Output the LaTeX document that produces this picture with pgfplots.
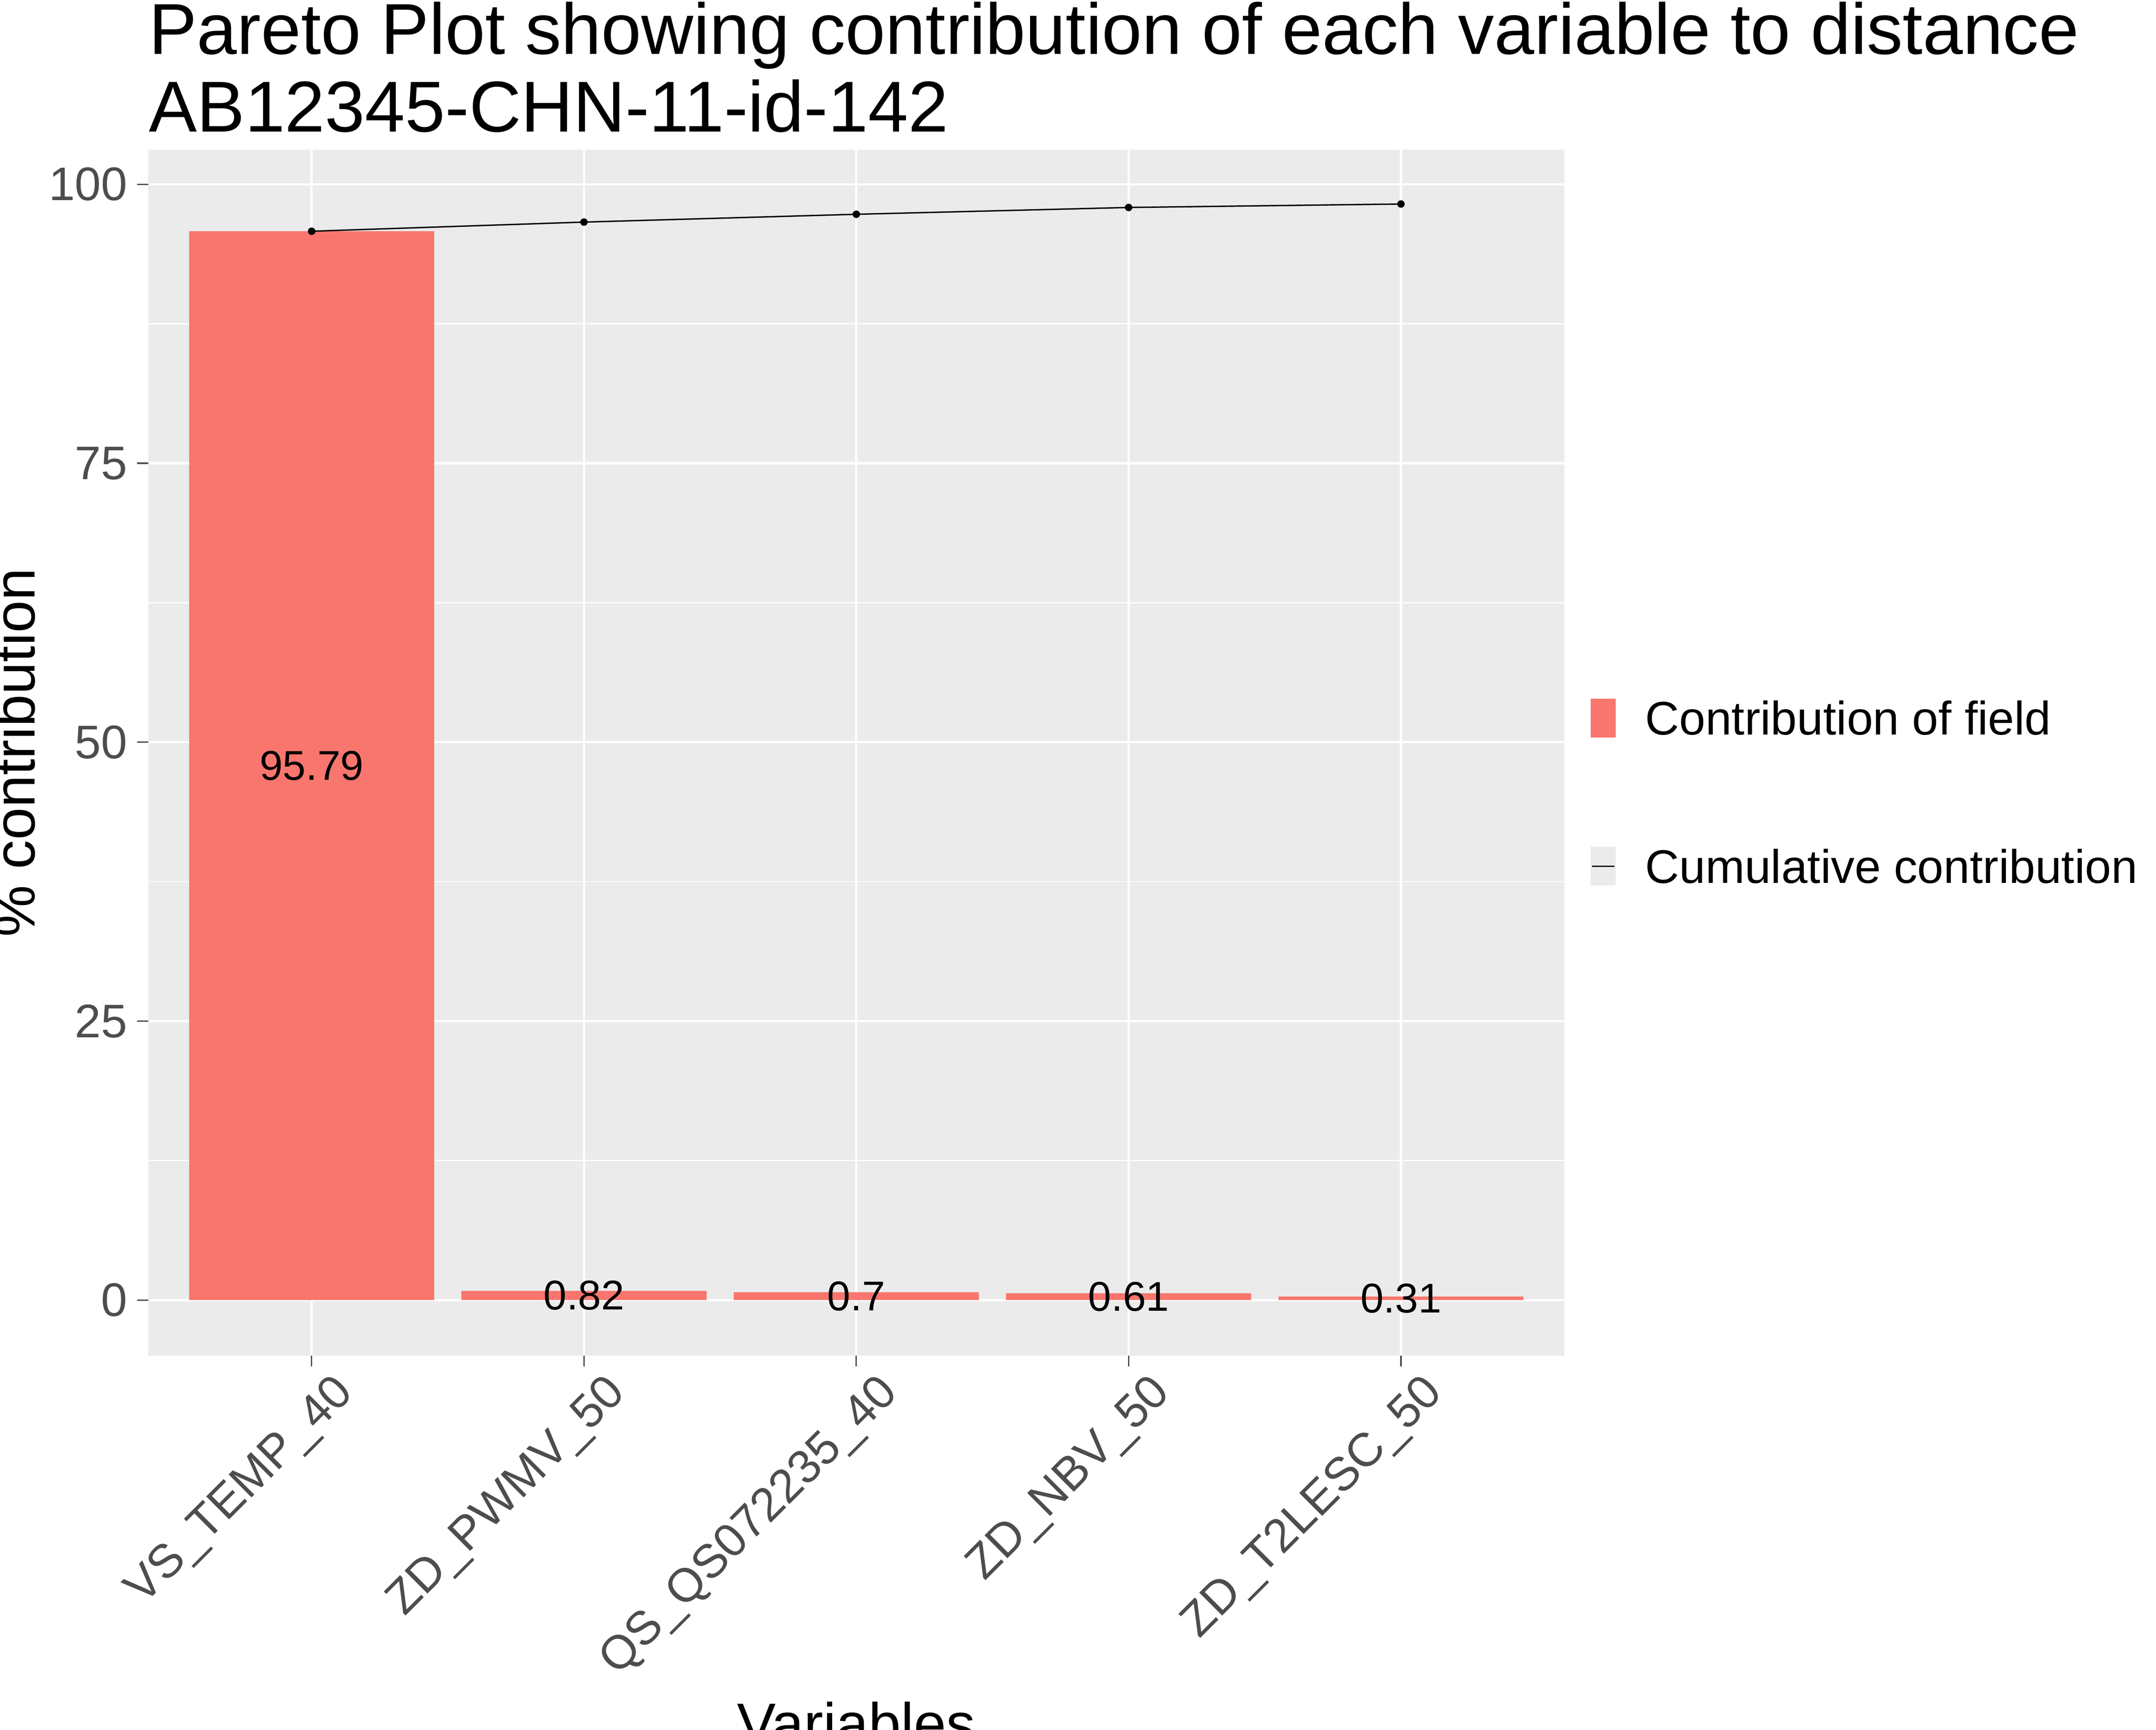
\documentclass[border=0pt]{standalone}
\usepackage{pgfplots}
\pgfplotsset{compat=1.18}
\usepackage{fontspec}
\setmainfont{Liberation Sans}
\definecolor{panel}{HTML}{EBEBEB}
\definecolor{barred}{HTML}{F8766D}
\definecolor{tick}{HTML}{4D4D4D}
\begin{document}
\begin{tikzpicture}
\begin{axis}[
  scale only axis, width=511pt, height=435pt,
  xmin=-0.6, xmax=4.6, ymin=-4.97, ymax=103.1,
  axis background/.style={fill=panel},
  axis line style={draw=none},
  xtick={0,1,2,3,4},
  xticklabels={VS\_TEMP\_40,ZD\_PWMV\_50,QS\_QS072235\_40,ZD\_NBV\_50,ZD\_T2LESC\_50},
  x tick label style={rotate=45, anchor=north east, font=\fontsize{17}{20}\selectfont, text=tick, inner sep=1pt, yshift=-5pt, xshift=5pt},
  ytick={0,25,50,75,100},
  minor ytick={12.5,37.5,62.5,87.5},
  y tick label style={font=\fontsize{17}{20}\selectfont, text=tick},
  /pgf/number format/assume math mode=true,
  tick style={draw=tick, line width=0.5pt},
  major tick length=4pt, tick pos=left, tick align=outside,
  minor tick length=0pt,
  grid=both,
  major grid style={white, line width=0.8pt},
  minor grid style={white, line width=0.4pt},
  xlabel={Variables}, ylabel={\% contribution},
  xlabel style={font=\fontsize{21}{24}\selectfont, yshift=-2pt},
  ylabel style={font=\fontsize{21}{24}\selectfont, yshift=-2pt},
  clip=false,
]
\addplot[ybar, bar width=0.9, fill=barred, draw=none, bar shift=0pt] coordinates {(0,95.79) (1,0.82) (2,0.7) (3,0.61) (4,0.31)};
\addplot[black, line width=0.5pt, mark=*, mark size=1.1pt] coordinates {(0,95.79) (1,96.61) (2,97.31) (3,97.92) (4,98.23)};
\addplot[only marks, mark=none, nodes near coords, point meta=explicit symbolic,
  nodes near coords style={font=\fontsize{15}{17}\selectfont, text=black, anchor=center}]
  coordinates {(0,47.895)[95.79] (1,0.41)[0.82] (2,0.35)[0.7] (3,0.305)[0.61] (4,0.155)[0.31]};
\end{axis}
\node[anchor=south west, align=left, font=\fontsize{26}{28}\selectfont, inner sep=0pt] at ([yshift=6pt]current axis.north west) {Pareto Plot showing contribution of each variable to distance\\AB12345-CHN-11-id-142};
\fill[barred] ([xshift=9.5pt,yshift=223pt]current axis.south east) rectangle ++(9pt,14pt);
\node[anchor=west, font=\fontsize{17}{20}\selectfont, inner sep=0pt] at ([xshift=29pt,yshift=230pt]current axis.south east) {Contribution of field};
\fill[panel] ([xshift=9.5pt,yshift=169.5pt]current axis.south east) rectangle ++(9pt,14pt);
\draw[black, line width=0.5pt] ([xshift=10pt,yshift=176.5pt]current axis.south east) -- ++(8pt,0);
\node[anchor=west, font=\fontsize{17}{20}\selectfont, inner sep=0pt] at ([xshift=29pt,yshift=176.5pt]current axis.south east) {Cumulative contribution};
\pgfresetboundingbox
\path ([xshift=-53.5pt,yshift=-135pt]current axis.south west) rectangle ([xshift=213.5pt,yshift=54pt]current axis.north east);
\end{tikzpicture}
\end{document}
